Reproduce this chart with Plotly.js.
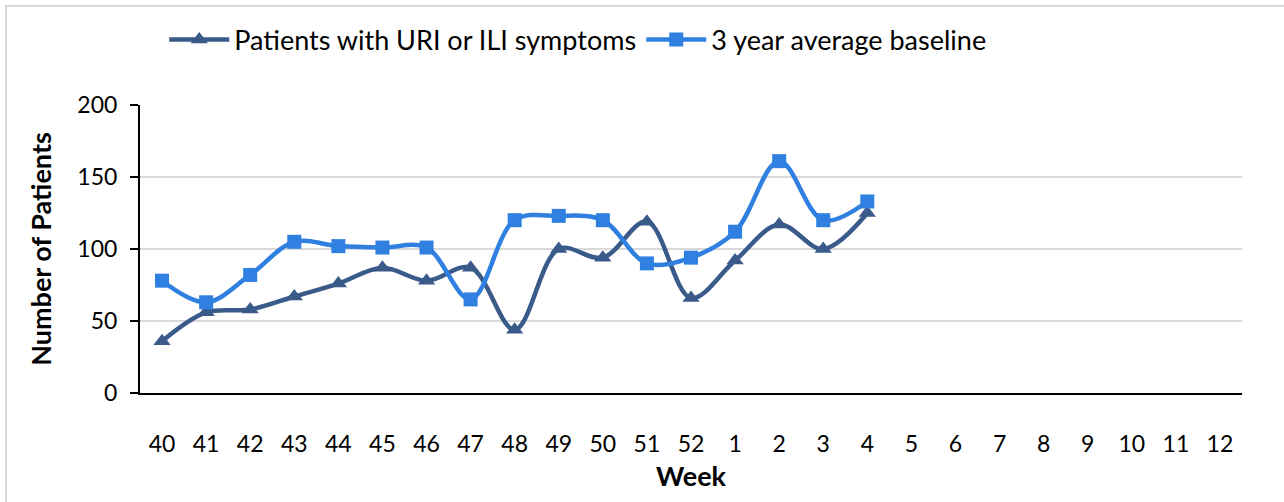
<!DOCTYPE html>
<html>
<head>
<meta charset="utf-8">
<script src="https://cdn.plot.ly/plotly-3.0.1.min.js"></script>
<style>html,body{margin:0;padding:0;background:#fff;}#chart{width:1284px;height:502px;}</style>
</head>
<body>
<div id="chart"></div>
<script>
const weeks = ["40","41","42","43","44","45","46","47","48","49","50","51","52","1","2","3","4","5","6","7","8","9","10","11","12"];
const dataWeeks = ["40","41","42","43","44","45","46","47","48","49","50","51","52","1","2","3","4"];
const patients = [36,56,58,67,76,87,78,87,44,100,94,119,66,92,117,100,125];
const baseline = [78,63,82,105,102,101,101,65,120,123,120,90,94,112,161,120,133];
const seriesNames = ["Patients with URI or ILI symptoms","3 year average baseline"];
const colors = ["#3A5A8A","#2F80E0"];
const font = "Lato, 'Open Sans', sans-serif";

const traces = [
  {x: dataWeeks, y: patients, name: seriesNames[0], type: "scatter", mode: "lines+markers",
   line: {color: colors[0], width: 4.5, shape: "spline", smoothing: 1},
   marker: {symbol: "triangle-up", size: 15, color: colors[0]}},
  {x: dataWeeks, y: baseline, name: seriesNames[1], type: "scatter", mode: "lines+markers",
   line: {color: colors[1], width: 4.5, shape: "spline", smoothing: 1},
   marker: {symbol: "square", size: 14, color: colors[1]}}
];

const layout = {
  width: 1284, height: 502,
  margin: {l: 140, r: 42, t: 105, b: 109},
  paper_bgcolor: "#fff", plot_bgcolor: "#fff",
  font: {family: font, size: 23, color: "#000"},
  showlegend: true,
  legend: {orientation: "h", x: 0.022, y: 1.226, xanchor: "left", yanchor: "middle",
           font: {family: font, size: 27, color: "#000"}, itemwidth: 60,
           entrywidth: 402, entrywidthmode: "pixels", tracegroupgap: 0},
  xaxis: {type: "category", categoryorder: "array", categoryarray: weeks, tickvals: weeks, ticktext: weeks,
          range: [-0.5, 24.5], showgrid: false, zeroline: false, showline: true, linecolor: "#000", linewidth: 2,
          ticks: "", ticklabelstandoff: 29, tickfont: {family: font, size: 23},
          title: {text: "<b>Week</b>", font: {family: font, size: 27}, standoff: 12}},
  yaxis: {range: [0, 200], dtick: 50, tick0: 0, showgrid: true, gridcolor: "#d9d9d9", gridwidth: 2,
          zeroline: false, showline: true, linecolor: "#000", linewidth: 2,
          ticks: "outside", ticklen: 8, tickcolor: "#000", tickwidth: 2, ticklabelstandoff: 8,
          tickfont: {family: font, size: 23},
          title: {text: "<b>Number of Patients</b>", font: {family: font, size: 27}, standoff: 18}},
  shapes: [{type: "rect", xref: "paper", yref: "paper", x0: -0.1216, x1: 1.2, y0: -0.5, y1: 1.344,
            line: {color: "#d9d9d9", width: 2}, fillcolor: "rgba(0,0,0,0)", layer: "below"}]
};

Plotly.newPlot("chart", traces, layout, {displayModeBar: false, staticPlot: true});
</script>
</body>
</html>
